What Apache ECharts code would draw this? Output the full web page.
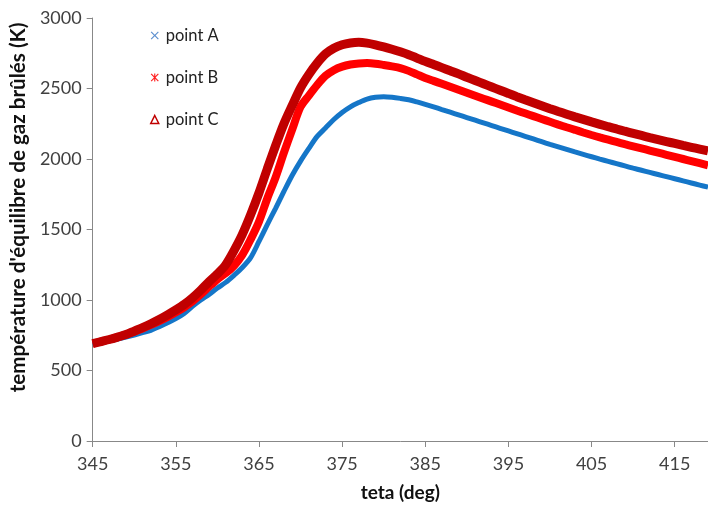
<!DOCTYPE html>
<html>
<head>
<meta charset="utf-8">
<script src="https://cdn.jsdelivr.net/npm/echarts@6/dist/echarts.min.js"></script>
<style>html,body{margin:0;padding:0;background:#fff;}#c{width:708px;height:507px;}</style>
</head>
<body>
<div id="c"></div>
<script>
const teta = [345,346,347,348,349,350,351,352,353,354,355,356,357,358,359,360,361,362,363,364,365,366,367,368,369,370,371,372,373,374,375,376,377,378,379,380,381,382,383,384,385,386,387,388,389,390,391,392,393,394,395,396,397,398,399,400,401,402,403,404,405,406,407,408,409,410,411,412,413,414,415,416,417,418,419];
const pointA = [685,697,710,723,737,752,768,785,810,838,868,905,955,1000,1040,1085,1125,1175,1230,1300,1415,1535,1650,1770,1885,1985,2075,2160,2220,2280,2330,2370,2400,2425,2438,2442,2438,2430,2420,2405,2388,2370,2351,2332,2313,2294,2275,2256,2237,2218,2199,2180,2161,2142,2123,2104,2086,2068,2050,2033,2016,1999,1983,1967,1951,1935,1920,1905,1890,1875,1860,1845,1830,1815,1800];
const pointB = [690,704,720,737,755,775,798,823,850,880,912,948,990,1040,1095,1147,1190,1243,1320,1430,1555,1720,1870,2045,2210,2370,2450,2525,2590,2630,2655,2670,2678,2680,2676,2667,2657,2645,2625,2600,2575,2554,2533,2512,2491,2470,2449,2428,2407,2386,2365,2344,2324,2304,2284,2264,2244,2225,2207,2188,2170,2153,2137,2121,2105,2090,2075,2060,2045,2030,2015,2000,1985,1970,1955];
const pointC = [690,705,720,737,755,780,805,832,862,895,930,968,1015,1070,1130,1185,1250,1350,1465,1605,1760,1930,2095,2250,2380,2505,2600,2680,2745,2785,2810,2823,2828,2822,2810,2795,2778,2760,2740,2716,2692,2670,2648,2626,2604,2580,2557,2534,2511,2488,2465,2442,2420,2399,2378,2357,2337,2318,2299,2281,2263,2246,2229,2213,2197,2182,2167,2152,2138,2124,2110,2096,2083,2070,2057];
const seriesNames = ['point A','point B','point C'];
const xTitle = 'teta (deg)';
const yTitle = "température d'équilibre de gaz brûlés (K)";

const FONT = 'Lato';
const chart = echarts.init(document.getElementById('c'), null, {renderer:'canvas'});
const pair = arr => teta.map((t,i)=>[t, arr[i]]);
const xPath = 'path://M0,1L1,0L5,4L9,0L10,1L6,5L10,9L9,10L5,6L1,10L0,9L4,5Z';
const starPath = 'path://M0,1L1,0L5,4L9,0L10,1L6,5L10,9L9,10L5,6L1,10L0,9L4,5Z M4.3,0H5.7V10H4.3Z';
chart.setOption({
  animation:false,
  backgroundColor:'#fff',
  grid:{left:91, top:18, right:0, bottom:65, containLabel:false},
  legend:{
    orient:'vertical', left:145, top:22, itemWidth:8, itemHeight:8, itemGap:25,
    textStyle:{fontFamily:FONT, fontSize:16.5, color:'#222', padding:[0,0,0,2]},
    data:[
      {name:seriesNames[0], icon:xPath, itemStyle:{color:'#5B8FCF'}},
      {name:seriesNames[1], icon:starPath, itemStyle:{color:'#FF2020'}},
      {name:seriesNames[2], icon:'triangle', itemStyle:{color:'#fff', borderColor:'#C00000', borderWidth:1.5}}
    ]
  },
  xAxis:{
    type:'value', min:345, max:419, interval:10,
    name:xTitle, nameLocation:'middle', nameGap:42,
    nameTextStyle:{fontFamily:FONT, fontSize:19, fontWeight:'bold', color:'#111'},
    axisLine:{show:true, lineStyle:{color:'#888', width:1}},
    axisTick:{show:true, length:6, lineStyle:{color:'#888'}},
    axisLabel:{fontFamily:FONT, fontSize:18, color:'#404040', margin:14, showMaxLabel:false},
    splitLine:{show:false}
  },
  yAxis:{
    type:'value', min:0, max:3000, interval:500,
    name:yTitle, nameLocation:'middle', nameGap:62, nameRotate:90,
    nameTextStyle:{fontFamily:FONT, fontSize:20.6, fontWeight:'bold', color:'#111', padding:[0,0,0,44]},
    axisLine:{show:true, lineStyle:{color:'#888', width:1}},
    axisTick:{show:true, length:6, lineStyle:{color:'#888'}},
    axisLabel:{fontFamily:FONT, fontSize:18, color:'#404040', margin:11, formatter:v=>String(v)},
    splitLine:{show:false}
  },
  series:[
    {name:seriesNames[0], type:'line', data:pair(pointA), showSymbol:false, smooth:0.3,
     lineStyle:{color:'#1576C8', width:5}, itemStyle:{color:'#1576C8'}, z:2},
    {name:seriesNames[1], type:'line', data:pair(pointB), showSymbol:false, smooth:0.3,
     lineStyle:{color:'#FF0000', width:8}, itemStyle:{color:'#FF0000'}, z:3},
    {name:seriesNames[2], type:'line', data:pair(pointC), showSymbol:false, smooth:0.3,
     lineStyle:{color:'#C00000', width:9}, itemStyle:{color:'#C00000'}, z:4}
  ]
});
</script>
</body>
</html>
